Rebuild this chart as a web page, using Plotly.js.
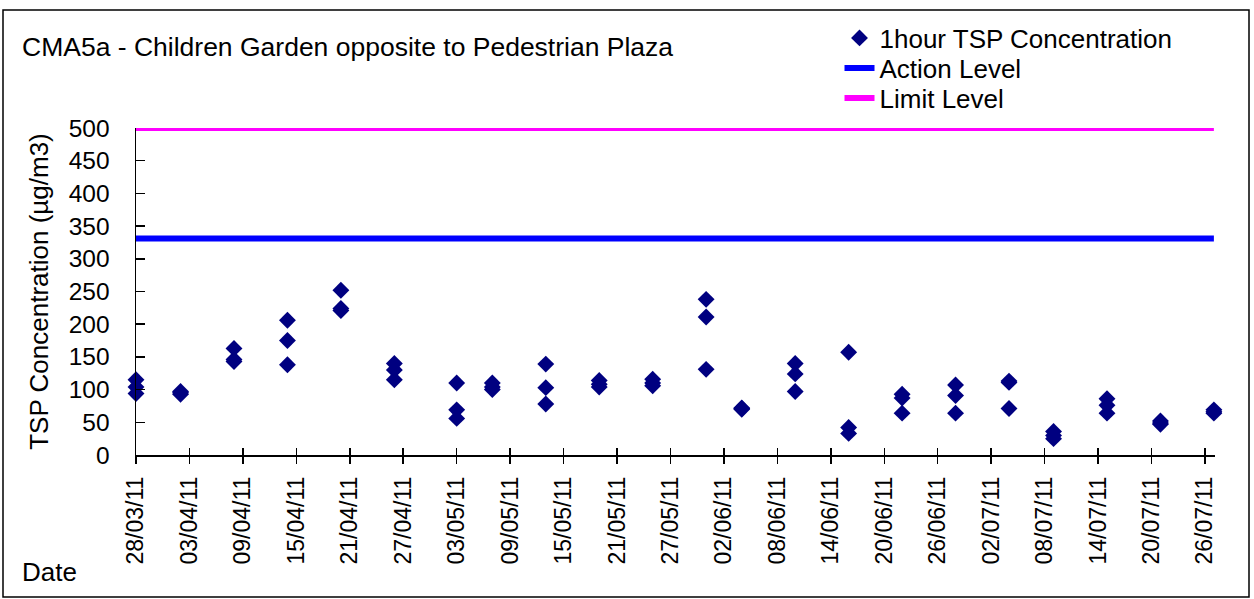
<!DOCTYPE html>
<html>
<head>
<meta charset="utf-8">
<script src="https://cdn.plot.ly/plotly-3.0.1.min.js"></script>
<style>
html,body{margin:0;padding:0;background:#fff;}
#chart{width:1254px;height:599px;}
</style>
</head>
<body>
<div id="chart"></div>
<script>
// ---- data ----
const sampleDates = [
  '2011-03-28','2011-04-02','2011-04-08','2011-04-14','2011-04-20','2011-04-26',
  '2011-05-03','2011-05-07','2011-05-13','2011-05-19','2011-05-25','2011-05-31',
  '2011-06-04','2011-06-10','2011-06-16','2011-06-22','2011-06-28','2011-07-04',
  '2011-07-09','2011-07-15','2011-07-21','2011-07-27'
];
const reading1 = [115, 97, 163, 206, 252, 140, 110, 110, 139, 114, 116, 238, 72, 140, 157, 93, 107, 113, 36, 86, 52, 69];
const reading2 = [104, 95, 146, 175, 224, 130, 69, 104, 103, 108, 110, 211, 71, 124, 42, 87, 91, 111, 30, 76, 49, 66];
const reading3 = [94, 93, 143, 138, 221, 115, 56, 100, 78, 104, 106, 131, 70, 97, 33, 64, 64, 71, 25, 64, 47, 64];
const levelDates = ['2011-03-28', '2011-07-27'];
const actionLevel = [331, 331];
const limitLevel = [500, 500];
const yTicks = [0, 50, 100, 150, 200, 250, 300, 350, 400, 450, 500];
const chartTitle = 'CMA5a - Children Garden opposite to Pedestrian Plaza';
const yTitle = 'TSP Concentration (µg/m3)';
const xTitle = 'Date';

// flatten readings for the scatter trace
const tspX = [], tspY = [];
[reading1, reading2, reading3].forEach(r => {
  r.forEach((v, i) => { tspX.push(sampleDates[i]); tspY.push(v); });
});

const FONT = 'Liberation Sans, Arial, sans-serif';
const DAY = 86400000;
const xRange = ['2011-03-28', '2011-07-27 03:00'];

const traces = [
  {
    type: 'scatter', mode: 'markers', name: '1hour TSP Concentration',
    x: tspX, y: tspY, cliponaxis: false,
    marker: {symbol: 'diamond', size: 13, color: '#000080'},
    legend: 'legend'
  },
  {
    type: 'scatter', mode: 'lines', name: 'Action Level',
    x: levelDates, y: actionLevel, cliponaxis: false,
    line: {color: '#0000FF', width: 6},
    legend: 'legend2'
  },
  {
    type: 'scatter', mode: 'lines', name: 'Limit Level',
    x: levelDates, y: limitLevel, cliponaxis: false,
    line: {color: '#FF00FF', width: 6},
    legend: 'legend3'
  },
  { // invisible trace carrying the inside tick marks of the date axis
    type: 'scatter', mode: 'markers', x: levelDates, y: [0, 0],
    xaxis: 'x2', yaxis: 'y', showlegend: false, hoverinfo: 'skip',
    marker: {opacity: 0}
  }
];

const legendBase = {
  xanchor: 'left', yanchor: 'middle', x: 0.652,
  bgcolor: 'rgba(0,0,0,0)', borderwidth: 0,
  font: {family: FONT, size: 26, color: '#000'},
  itemwidth: 30
};

const layout = {
  width: 1254, height: 599,
  margin: {l: 136, r: 39, t: 128, b: 144},
  paper_bgcolor: '#fff', plot_bgcolor: '#fff',
  font: {family: FONT, color: '#000'},
  showlegend: true,
  legend: Object.assign({}, legendBase, {y: 1.2752}),
  legend2: Object.assign({}, legendBase, {y: 1.1835}),
  legend3: Object.assign({}, legendBase, {y: 1.0917}),
  xaxis: {
    type: 'date', range: xRange,
    tickmode: 'linear', tick0: '2011-03-28', dtick: 6 * DAY,
    tickformat: '%d/%m/%y', tickangle: -90,
    tickfont: {family: FONT, size: 23, color: '#000'},
    ticks: 'outside', ticklen: 7, tickwidth: 1.5, tickcolor: '#000',
    showline: true, linecolor: '#000', linewidth: 1.5,
    showgrid: false, zeroline: false,
    ticklabelstandoff: 4
  },
  xaxis2: {
    type: 'date', range: xRange, overlaying: 'x', anchor: 'y', side: 'bottom',
    tickmode: 'linear', tick0: '2011-03-28', dtick: 6 * DAY,
    ticks: 'inside', ticklen: 7, tickwidth: 1.5, tickcolor: '#000',
    showticklabels: false, showgrid: false, zeroline: false, showline: false
  },
  yaxis: {
    range: [0, 500], tickmode: 'array', tickvals: yTicks,
    ticks: 'inside', ticklen: 9, tickwidth: 1.5, tickcolor: '#000',
    tickfont: {family: FONT, size: 24.5, color: '#000'},
    showline: true, linecolor: '#000', linewidth: 1.5,
    showgrid: false, zeroline: false,
    ticklabelstandoff: 20,
    title: {text: yTitle, font: {family: FONT, size: 26, color: '#000'}, standoff: 12}
  },
  annotations: [
    {text: chartTitle, xref: 'paper', yref: 'paper',
     x: (20 - 136) / 1079, y: (455 - 47) / 327, xanchor: 'left', yanchor: 'middle',
     showarrow: false, font: {family: FONT, size: 26.5, color: '#000'}},
    {text: xTitle, xref: 'paper', yref: 'paper',
     x: (20 - 136) / 1079, y: (455 - 572) / 327, xanchor: 'left', yanchor: 'middle',
     showarrow: false, font: {family: FONT, size: 26, color: '#000'}}
  ],
  shapes: [
    {type: 'rect', xref: 'paper', yref: 'paper', layer: 'below',
     x0: (3 - 136) / 1079, x1: (1249 - 136) / 1079,
     y0: (455 - 597) / 327, y1: (455 - 10) / 327,
     line: {color: '#000', width: 1.5}, fillcolor: 'rgba(0,0,0,0)'}
  ]
};

Plotly.newPlot('chart', traces, layout, {displayModeBar: false, staticPlot: true});
</script>
</body>
</html>
